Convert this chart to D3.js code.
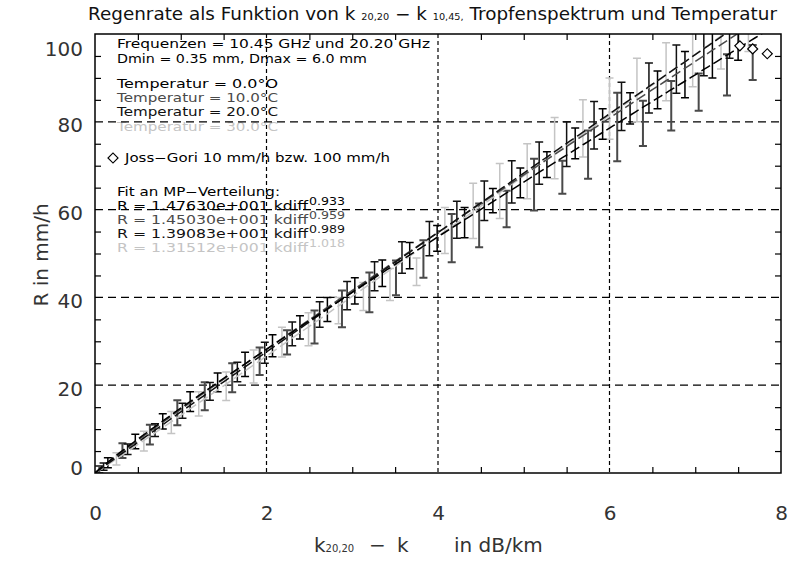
<!DOCTYPE html>
<html>
<head>
<meta charset="utf-8">
<script src="https://cdn.jsdelivr.net/npm/d3@7"></script>
<style>
  body { margin: 0; background: #fff; }
  text { font-family: "DejaVu Sans", sans-serif; }
</style>
</head>
<body>
<svg id="chart" width="791" height="566"></svg>
<script>
// axis ticks
var xTicks = [0, 2, 4, 6, 8];
var yTicks = [0, 20, 40, 60, 80, 100];

// legend / fit parameters
var tempLabels = ['0.0°O', '10.0°C', '20.0°C', '30.0°C'];
var fitCoef = [14.7630, 14.5030, 13.9083, 13.1512];
var fitExp = [0.933, 0.959, 0.989, 1.018];
var fitCoefText = ['1.47630e+001', '1.45030e+001', '1.39083e+001', '1.31512e+001'];

// error bars, T = 0 C
var x0 = [0.15, 0.47, 0.79, 1.11, 1.43, 1.75, 2.07, 2.39, 2.71, 3.03, 3.35, 3.67, 3.99, 4.31, 4.64, 4.96, 5.27, 5.6, 5.92, 6.24, 6.56, 6.88, 7.2, 7.5];
var lo0 = [1.2, 5.5, 10.0, 14.0, 18.5, 22.0, 26.5, 30.5, 34.5, 38.5, 42.5, 46.5, 50.5, 53.6, 59.3, 62.7, 67.3, 71.6, 76.0, 79.5, 83.0, 85.5, 90.0, 94.0];
var hi0 = [3.5, 8.8, 13.5, 18.5, 22.8, 27.5, 31.5, 35.8, 40.0, 44.5, 48.5, 52.5, 56.4, 60.5, 64.8, 69.5, 73.2, 78.6, 83.0, 86.6, 91.6, 96.0, 103, 106];

// T = 10 C
var x10 = [0.05, 0.32, 0.64, 0.96, 1.28, 1.6, 1.92, 2.24, 2.56, 2.88, 3.2, 3.51, 3.83, 4.16, 4.48, 4.8, 5.12, 5.45, 5.75, 6.09, 6.39, 6.72, 7.04, 7.37, 7.67];
var lo10 = [0.0, 3.4, 6.5, 10.9, 14.3, 18.4, 22.3, 27.0, 29.5, 33.2, 36.6, 40.5, 44.5, 48.0, 51.4, 56.0, 59.8, 63.6, 67.0, 71.0, 74.5, 78.0, 82.5, 86.0, 89.5];
var hi10 = [1.6, 6.8, 11.0, 16.6, 20.7, 25.0, 28.6, 32.5, 37.0, 41.6, 45.7, 48.4, 53.0, 59.0, 61.4, 64.3, 71.6, 71.1, 78.0, 86.6, 84.8, 89.3, 91.0, 95.4, 97.5];

// T = 20 C
var x20 = [0.1, 0.38, 0.7, 1.02, 1.34, 1.66, 1.98, 2.3, 2.62, 2.94, 3.26, 3.58, 3.9, 4.22, 4.54, 4.86, 5.18, 5.5, 5.82, 6.14, 6.46, 6.78, 7.1, 7.4];
var lo20 = [0.6, 4.2, 8.3, 12.5, 16.6, 20.8, 25.0, 29.0, 33.2, 37.2, 41.5, 45.5, 49.5, 53.5, 57.5, 61.5, 65.8, 69.8, 73.8, 78.0, 82.0, 86.5, 90.5, 94.5];
var hi20 = [2.3, 6.6, 11.2, 15.9, 20.6, 25.2, 29.8, 34.4, 39.0, 43.6, 48.1, 52.7, 57.3, 61.9, 66.5, 71.1, 75.4, 80.0, 84.6, 89.0, 93.4, 97.5, 102, 106];

// T = 30 C
var x30 = [0.25, 0.57, 0.89, 1.21, 1.53, 1.85, 2.18, 2.49, 2.84, 3.13, 3.44, 3.75, 4.08, 4.41, 4.72, 5.04, 5.36, 5.69, 6.0, 6.32, 6.66, 6.97, 7.3, 7.62];
var lo30 = [1.8, 5.0, 9.0, 13.0, 16.5, 20.5, 26.4, 29.0, 34.0, 37.0, 39.3, 42.7, 50.0, 53.4, 58.0, 62.5, 67.0, 72.0, 76.0, 80.0, 84.8, 88.0, 92.0, 96.0];
var hi30 = [4.6, 9.5, 14.0, 18.5, 23.0, 28.0, 33.2, 36.5, 40.0, 43.4, 46.6, 49.0, 60.5, 66.0, 70.5, 75.0, 81.0, 85.0, 90.0, 94.5, 98.0, 102, 105, 108];

// Joss-Gori points
var jgX = [7.52, 7.67, 7.84];
var jgY = [97.3, 96.6, 95.5];

var plot = { left: 95, right: 781, top: 34, bottom: 473 };
var colors = ['#000', '#4a4a4a', '#111', '#c4c4c4'];

var svg = d3.select('#chart');
var x = d3.scaleLinear().domain([0, 8]).range([plot.left, plot.right]);
var y = d3.scaleLinear().domain([0, 100]).range([plot.bottom, plot.top]);

svg.append('defs').append('clipPath').attr('id', 'clip')
    .append('rect')
    .attr('x', plot.left).attr('y', plot.top)
    .attr('width', plot.right - plot.left).attr('height', plot.bottom - plot.top);

// title
var title = svg.append('text')
    .attr('x', 88).attr('y', 20)
    .attr('font-size', 17).attr('fill', '#111')
    .attr('textLength', 689).attr('lengthAdjust', 'spacingAndGlyphs');
title.append('tspan').text('Regenrate als Funktion von k ');
title.append('tspan').attr('font-size', 9).text('20,20');
title.append('tspan').text(' \u2212 k ');
title.append('tspan').attr('font-size', 9).text('10,45,');
title.append('tspan').text(' Tropfenspektrum und Temperatur');

// legend text block: short glyphs stretched to the reference widths
var legend = svg.append('g').attr('font-size', 11.5).attr('fill', '#000');
function legendText(px, py, str, len, color) {
    return legend.append('text')
        .attr('x', px).attr('y', py)
        .attr('fill', color || '#000')
        .attr('textLength', len).attr('lengthAdjust', 'spacingAndGlyphs')
        .text(str);
}
legendText(117, 48, 'Frequenzen = 10.45 GHz und 20.20 GHz', 313);
legendText(117, 63, 'Dmin = 0.35 mm, Dmax = 6.0 mm', 250);
var tempY = [88, 102, 116, 131];
tempLabels.forEach(function(t, i) {
    legendText(117, tempY[i], 'Temperatur = ' + t, 161, colors[i]);
});
legendText(125, 162, 'Joss\u2212Gori 10 mm/h bzw. 100 mm/h', 265);
legend.append('path')
    .attr('d', d3.symbol(d3.symbolSquare, 50)())
    .attr('transform', 'translate(113,158) rotate(45)')
    .attr('fill', 'none').attr('stroke', '#000').attr('stroke-width', 1.2);
legendText(117, 196, 'Fit an MP\u2212Verteilung:', 163);
var fitY = [210, 224, 238, 252];
fitCoefText.forEach(function(c, i) {
    legendText(117, fitY[i], 'R = ' + c + ' kdiff', 191, colors[i]);
    legend.append('text')
        .attr('x', 309).attr('y', fitY[i] - 5)
        .attr('font-size', 10.5).attr('fill', colors[i])
        .attr('textLength', 36).attr('lengthAdjust', 'spacingAndGlyphs')
        .text(fitExp[i].toFixed(3));
});

// grid lines (dashed, at major ticks)
var grid = svg.append('g').attr('stroke', '#000').attr('stroke-width', 1.2);
grid.selectAll('line.gx').data(xTicks.slice(1, -1)).join('line')
    .attr('class', 'gx')
    .attr('x1', function(d) { return x(d); }).attr('x2', function(d) { return x(d); })
    .attr('y1', plot.top).attr('y2', plot.bottom)
    .attr('stroke-dasharray', '4,3');
grid.selectAll('line.gy').data(yTicks.slice(1, -1)).join('line')
    .attr('class', 'gy')
    .attr('y1', function(d) { return y(d); }).attr('y2', function(d) { return y(d); })
    .attr('x1', plot.left).attr('x2', plot.right)
    .attr('stroke-dasharray', '8,5');

// error bars
var series = [
    { xs: x30, lo: lo30, hi: hi30, color: colors[3], w: 1.5 },
    { xs: x10, lo: lo10, hi: hi10, color: colors[1], w: 2 },
    { xs: x20, lo: lo20, hi: hi20, color: colors[2], w: 1.5 },
    { xs: x0, lo: lo0, hi: hi0, color: colors[0], w: 1.5 }
];
var bars = svg.append('g').attr('clip-path', 'url(#clip)').attr('fill', 'none');
series.forEach(function(s) {
    bars.append('g')
        .attr('stroke', s.color).attr('stroke-width', s.w)
        .selectAll('path').data(d3.range(s.xs.length)).join('path')
        .attr('d', function(i) {
            var cx = x(s.xs[i]), yl = y(s.lo[i]), yh = y(s.hi[i]);
            return 'M' + cx + ',' + yl + 'V' + yh +
                'M' + (cx - 4) + ',' + yl + 'h8' +
                'M' + (cx - 4) + ',' + yh + 'h8';
        });
});

// power-law fits R = a * kdiff^b
var fitX = d3.range(0, 8.001, 0.05);
[3, 1, 2, 0].forEach(function(i) {
    var line = d3.line()
        .x(function(d) { return x(d); })
        .y(function(d) { return y(fitCoef[i] * Math.pow(d, fitExp[i])); });
    bars.append('path').datum(fitX)
        .attr('d', line)
        .attr('stroke', colors[i]).attr('stroke-width', 1.5)
        .attr('stroke-dasharray', '10,4');
});

// Joss-Gori diamonds
svg.append('g').selectAll('path').data(d3.range(jgX.length)).join('path')
    .attr('d', d3.symbol(d3.symbolSquare, 50)())
    .attr('transform', function(i) { return 'translate(' + x(jgX[i]) + ',' + y(jgY[i]) + ') rotate(45)'; })
    .attr('fill', '#fff').attr('stroke', '#000').attr('stroke-width', 1.2);

// minor ticks on all four sides
var xMinor = d3.range(0.5, 8, 0.5).filter(function(d) { return d % 2 !== 0; });
var yMinor = d3.range(5, 100, 5).filter(function(d) { return d % 20 !== 0; });
function noDomain(g) { g.select('.domain').remove(); }
svg.append('g').attr('transform', 'translate(0,' + plot.bottom + ')')
    .call(d3.axisBottom(x).tickValues(xMinor).tickSize(-6).tickFormat('')).call(noDomain);
svg.append('g').attr('transform', 'translate(0,' + plot.top + ')')
    .call(d3.axisTop(x).tickValues(xMinor).tickSize(-6).tickFormat('')).call(noDomain);
svg.append('g').attr('transform', 'translate(' + plot.left + ',0)')
    .call(d3.axisLeft(y).tickValues(yMinor).tickSize(-6).tickFormat('')).call(noDomain);
svg.append('g').attr('transform', 'translate(' + plot.right + ',0)')
    .call(d3.axisRight(y).tickValues(yMinor).tickSize(-6).tickFormat('')).call(noDomain);
svg.selectAll('.tick line').attr('stroke', '#000').attr('stroke-width', 1.2);

// tick labels
var xAxis = svg.append('g').attr('transform', 'translate(0,' + plot.bottom + ')')
    .call(d3.axisBottom(x).tickValues(xTicks).tickSize(0).tickFormat(d3.format('d')))
    .call(noDomain);
xAxis.selectAll('text').attr('y', 47).attr('dy', null)
    .attr('font-size', 20).attr('font-family', '"DejaVu Sans", sans-serif').attr('fill', '#333');

var yAxis = svg.append('g').attr('transform', 'translate(' + plot.left + ',0)')
    .call(d3.axisLeft(y).tickValues(yTicks).tickSize(0).tickPadding(12).tickFormat(d3.format('d')))
    .call(noDomain);
yAxis.selectAll('text')
    .attr('dy', null)
    .attr('y', function(d) {
        var c = Math.min(Math.max(y(d) + 3, plot.top + 14), plot.bottom - 6);
        return c - y(d) + 7;
    })
    .attr('font-size', 20).attr('font-family', '"DejaVu Sans", sans-serif').attr('fill', '#333');

// axis titles
svg.append('text')
    .attr('transform', 'translate(48,255) rotate(-90)')
    .attr('text-anchor', 'middle').attr('font-size', 20).attr('fill', '#333')
    .text('R in mm/h');
var xl = svg.append('g').attr('font-size', 20).attr('fill', '#333');
var k1 = xl.append('text').attr('x', 314).attr('y', 552);
k1.append('tspan').text('k');
k1.append('tspan').attr('font-size', 10).text('20,20');
xl.append('text').attr('x', 369).attr('y', 552).text('\u2212');
xl.append('text').attr('x', 397).attr('y', 552).text('k');
xl.append('text').attr('x', 454).attr('y', 552).text('in dB/km');

// frame
svg.append('rect')
    .attr('x', plot.left).attr('y', plot.top)
    .attr('width', plot.right - plot.left).attr('height', plot.bottom - plot.top)
    .attr('fill', 'none').attr('stroke', '#000').attr('stroke-width', 1.5);
</script>
</body>
</html>
